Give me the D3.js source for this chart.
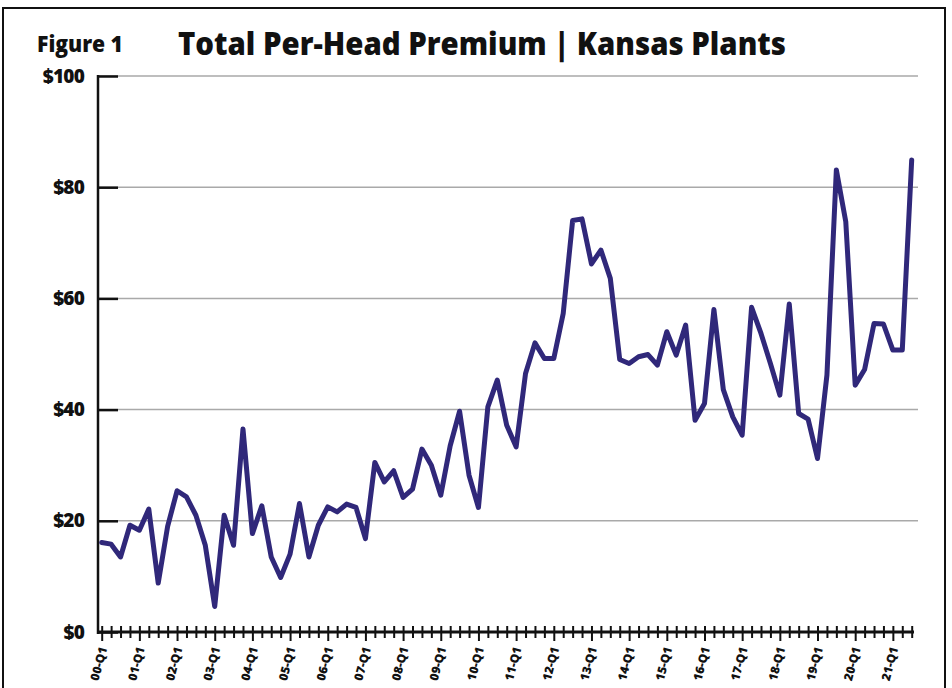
<!DOCTYPE html>
<html>
<head>
<meta charset="utf-8">
<script src="https://cdn.jsdelivr.net/npm/d3@7"></script>
<style>
  html, body { margin: 0; padding: 0; background: #fff; }
  svg { display: block; }
  text { font-family: "Open Sans", "Noto Sans", sans-serif; font-weight: 800; fill: #111; }
</style>
</head>
<body>
<svg id="chart" width="952" height="688"></svg>
<script>
const categories = [
  "00-Q1","00-Q2","00-Q3","00-Q4","01-Q1","01-Q2","01-Q3","01-Q4",
  "02-Q1","02-Q2","02-Q3","02-Q4","03-Q1","03-Q2","03-Q3","03-Q4",
  "04-Q1","04-Q2","04-Q3","04-Q4","05-Q1","05-Q2","05-Q3","05-Q4",
  "06-Q1","06-Q2","06-Q3","06-Q4","07-Q1","07-Q2","07-Q3","07-Q4",
  "08-Q1","08-Q2","08-Q3","08-Q4","09-Q1","09-Q2","09-Q3","09-Q4",
  "10-Q1","10-Q2","10-Q3","10-Q4","11-Q1","11-Q2","11-Q3","11-Q4",
  "12-Q1","12-Q2","12-Q3","12-Q4","13-Q1","13-Q2","13-Q3","13-Q4",
  "14-Q1","14-Q2","14-Q3","14-Q4","15-Q1","15-Q2","15-Q3","15-Q4",
  "16-Q1","16-Q2","16-Q3","16-Q4","17-Q1","17-Q2","17-Q3","17-Q4",
  "18-Q1","18-Q2","18-Q3","18-Q4","19-Q1","19-Q2","19-Q3","19-Q4",
  "20-Q1","20-Q2","20-Q3","20-Q4","21-Q1","21-Q2","21-Q3"
];
const premium = [
  16.1, 15.8, 13.5, 19.2, 18.3, 22.1, 8.8, 19.0,
  25.4, 24.3, 21.0, 15.6, 4.6, 21.0, 15.6, 36.5,
  17.7, 22.7, 13.5, 9.8, 14.0, 23.1, 13.5, 19.2,
  22.5, 21.6, 23.0, 22.4, 16.8, 30.5, 27.0, 29.0,
  24.2, 25.7, 32.9, 30.0, 24.6, 33.5, 39.7, 28.2,
  22.4, 40.5, 45.3, 37.2, 33.3, 46.5, 52.0, 49.2,
  49.2, 57.3, 74.0, 74.3, 66.2, 68.7, 63.6, 49.0,
  48.3, 49.5, 49.9, 48.0, 54.0, 49.8, 55.2, 38.1,
  41.1, 58.0, 43.6, 38.7, 35.4, 58.4, 53.7, 48.3,
  42.6, 59.0, 39.3, 38.3, 31.2, 46.2, 83.1, 73.8,
  44.4, 47.2, 55.5, 55.4, 50.7, 50.7, 84.9
];
const yTicks = [0, 20, 40, 60, 80, 100];
const xLabelTicks = ["00-Q1","01-Q1","02-Q1","03-Q1","04-Q1","05-Q1","06-Q1","07-Q1",
  "08-Q1","09-Q1","10-Q1","11-Q1","12-Q1","13-Q1","14-Q1","15-Q1","16-Q1","17-Q1",
  "18-Q1","19-Q1","20-Q1","21-Q1"];
const figureLabel = "Figure 1";
const titleText = "Total Per-Head Premium | Kansas Plants";

const svg = d3.select("#chart");
const lineColor = "#30287a";
const fontStack = "'Open Sans', 'Noto Sans', sans-serif";

// frame
svg.append("rect").attr("x", 3).attr("y", 8).attr("width", 942).attr("height", 700)
  .attr("fill", "none").attr("stroke", "#111").attr("stroke-width", 2);

// titles
svg.append("text").attr("x", 37).attr("y", 52).attr("font-size", 22)
  .attr("textLength", 86).attr("lengthAdjust", "spacingAndGlyphs").text(figureLabel);
svg.append("text").attr("x", 178).attr("y", 55).attr("font-size", 32)
  .attr("textLength", 608).attr("lengthAdjust", "spacingAndGlyphs").text(titleText);

const x = d3.scalePoint().domain(categories).range([101.7, 911.7]);
const y = d3.scaleLinear().domain([0, 100]).range([632, 76]);
const axisX0 = 98;

// grid lines
svg.append("g").selectAll("line").data(yTicks.filter(d => d > 0)).join("line")
  .attr("x1", axisX0).attr("x2", 918)
  .attr("y1", d => y(d)).attr("y2", d => y(d))
  .attr("stroke", "#a9a9a9").attr("stroke-width", 1.5);

// y axis
const yAxis = d3.axisLeft(y).tickValues(yTicks).tickFormat(d => "$" + d)
  .tickSize(-20).tickPadding(14);
const gy = svg.append("g").attr("transform", `translate(${axisX0},0)`).call(yAxis);
gy.select(".domain").remove();
gy.selectAll(".tick line").attr("stroke", "#111").attr("stroke-width", 2.5);
gy.selectAll(".tick text").attr("font-size", 19).attr("fill", "#111")
  .style("font-family", fontStack).style("font-weight", 800)
  .style("letter-spacing", "-0.8px");
svg.append("line").attr("x1", axisX0).attr("x2", axisX0).attr("y1", 75).attr("y2", 634)
  .attr("stroke", "#111").attr("stroke-width", 2.5);

// x axis
const xAxis = d3.axisBottom(x).tickValues(categories)
  .tickFormat(d => xLabelTicks.includes(d) ? d : "").tickSize(0);
const gx = svg.append("g").attr("transform", `translate(0,${y(0)})`).call(xAxis);
gx.select(".domain").remove();
gx.append("line").attr("x1", axisX0).attr("x2", 914).attr("y1", 0).attr("y2", 0)
  .attr("stroke", "#111").attr("stroke-width", 3);
gx.selectAll(".tick line")
  .attr("y1", -6).attr("y2", d => xLabelTicks.includes(d) ? 9 : 6)
  .attr("stroke", "#111").attr("stroke-width", 2);
gx.selectAll(".tick text")
  .attr("font-size", 12).attr("fill", "#111")
  .style("font-family", fontStack).style("font-weight", 800)
  .attr("text-anchor", "end").attr("dy", "0.35em").attr("y", 0)
  .attr("transform", "translate(1,15) rotate(-75)");

// line
const line = d3.line().x((d, i) => x(categories[i])).y(d => y(d));
svg.append("path").datum(premium).attr("d", line)
  .attr("fill", "none").attr("stroke", lineColor).attr("stroke-width", 5)
  .attr("stroke-linejoin", "round").attr("stroke-linecap", "round");
</script>
</body>
</html>
